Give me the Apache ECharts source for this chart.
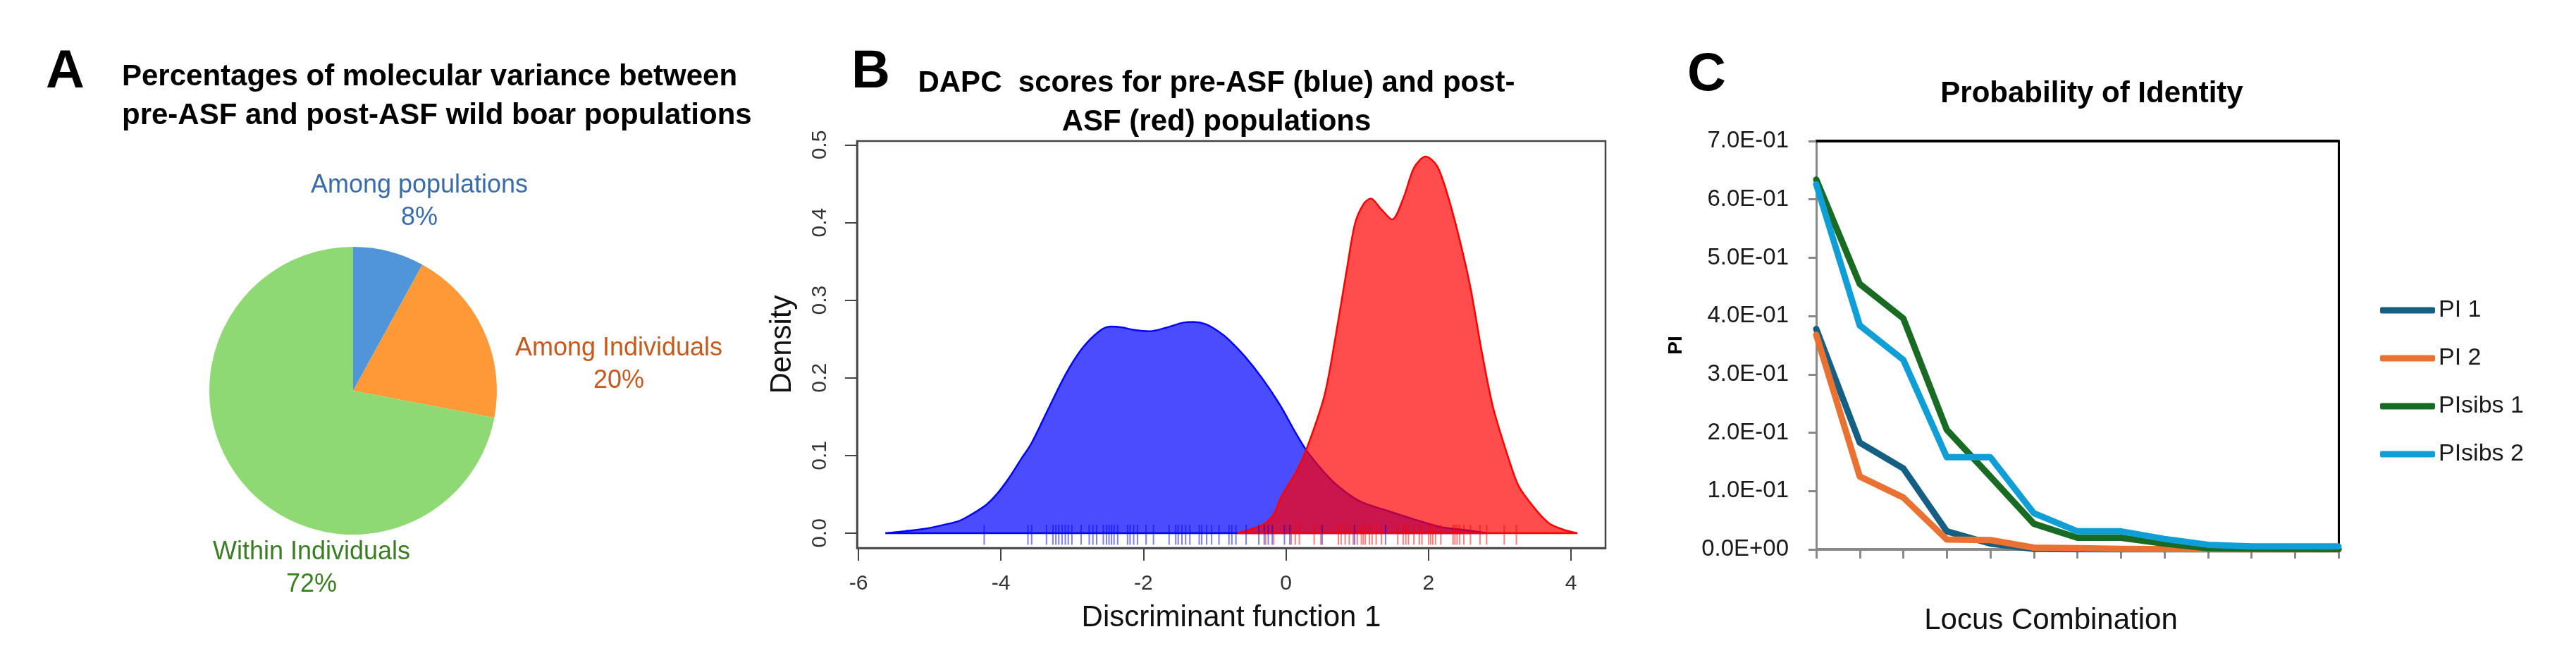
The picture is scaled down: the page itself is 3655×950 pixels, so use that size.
<!DOCTYPE html>
<html>
<head>
<meta charset="utf-8">
<script src="https://cdn.jsdelivr.net/npm/echarts@6/dist/echarts.min.js"></script>
<style>
html,body{margin:0;padding:0;background:#fff;}
#chart{width:3655px;height:950px;}
</style>
</head>
<body>
<div id="chart"></div>
<script>
// ---------- Panel A data ----------
var pieNames = ['Among populations', 'Among Individuals', 'Within Individuals'];
var pieValues = [8, 20, 72];

// ---------- Panel B data (density curves, [x, density]) ----------
var preASFDensity = [
  [-5.62,0.0],[-5.35,0.0025],[-5.07,0.0056],[-4.79,0.011],[-4.58,0.016],[-4.38,0.026],
  [-4.2,0.037],[-4.06,0.05],[-3.88,0.072],[-3.72,0.095],[-3.57,0.116],[-3.33,0.161],
  [-3.09,0.205],[-2.86,0.238],[-2.62,0.260],[-2.46,0.266],[-2.3,0.265],[-2.15,0.262],
  [-1.91,0.260],[-1.67,0.265],[-1.45,0.271],[-1.3,0.272],[-1.12,0.269],[-0.95,0.26],
  [-0.8,0.249],[-0.57,0.227],[-0.33,0.199],[-0.09,0.166],[0.15,0.127],[0.3,0.105],
  [0.54,0.078],[0.74,0.060],[1.04,0.041],[1.42,0.029],[1.79,0.018],[2.17,0.008],
  [2.55,0.0036],[2.83,0.0]
];
var postASFDensity = [
  [-0.68,0.0],[-0.32,0.011],[-0.17,0.0245],[-0.08,0.044],[0.02,0.060],[0.15,0.08],
  [0.3,0.111],[0.54,0.177],[0.70,0.255],[0.86,0.343],[0.97,0.399],[1.09,0.424],
  [1.19,0.431],[1.33,0.418],[1.49,0.404],[1.65,0.432],[1.80,0.471],[1.96,0.485],
  [2.12,0.473],[2.28,0.432],[2.44,0.377],[2.59,0.316],[2.75,0.233],[2.91,0.161],
  [3.15,0.089],[3.27,0.06],[3.5,0.031],[3.69,0.013],[3.88,0.005],[4.09,0.0]
];
// individual DAPC scores (rug)
var preASFScores = [
  -4.235,-3.621,-3.569,-3.361,-3.271,-3.229,-3.188,-3.142,-3.097,-3.055,-3.004,-2.875,
  -2.761,-2.709,-2.657,-2.563,-2.518,-2.483,-2.448,-2.413,-2.362,-2.223,-2.188,-2.137,
  -2.084,-1.963,-1.859,-1.640,-1.547,-1.512,-1.460,-1.408,-1.349,-1.217,-1.182,-1.113,
  -1.043,-0.940,-0.800,-0.759,-0.702,-0.559,-0.381,-0.305,-0.248,-0.192,-0.021,0.054,
  0.508,0.963,1.398
];
var postASFScores = [
  -0.285,-0.171,0.074,0.131,0.188,0.396,0.490,0.736,0.774,0.831,0.888,0.945,1.001,
  1.058,1.085,1.115,1.172,1.209,1.266,1.341,1.569,1.645,1.682,1.720,1.796,1.871,1.909,
  2.004,2.031,2.061,2.099,2.174,2.345,2.371,2.402,2.439,2.496,2.590,2.723,2.817,3.064,3.234
];
var xTicksB = [-6, -4, -2, 0, 2, 4];
var yTicksB = [0, 0.1, 0.2, 0.3, 0.4, 0.5];

// ---------- Panel C data ----------
var locusCats = ['1','2','3','4','5','6','7','8','9','10','11','12','13'];
var pi1     = [0.378,0.183,0.139,0.031,0.010,0.0008,0.0002,0.0001,0,0,0,0,0];
var pi2     = [0.368,0.125,0.089,0.017,0.016,0.003,0.002,0.001,0.0005,0.0002,0.0001,0.0001,0.0001];
var pisibs1 = [0.634,0.455,0.396,0.205,0.125,0.044,0.020,0.020,0.010,0.002,0.0012,0.0008,0.0005];
var pisibs2 = [0.626,0.384,0.325,0.158,0.158,0.062,0.031,0.031,0.018,0.008,0.005,0.005,0.005];
var seriesNamesC = ['PI 1', 'PI 2', 'PIsibs 1', 'PIsibs 2'];

// ---------- build option ----------
var FONT = 'Liberation Sans, Arial, sans-serif';
var pieColors = ['#4E95D9', '#FD9A37', '#8ED973'];
var pieLabelColors = ['#3A6CAB', '#C55A1E', '#3B7D23'];
var pieLabelPos = [[595, 286], [878, 517], [442, 806]];

function sciFmt(v) {
  if (Math.abs(v) < 1e-12) return '0.0E+00';
  var e = Math.floor(Math.log10(v) + 1e-9);
  var m = v / Math.pow(10, e);
  var es = (e < 0 ? '-' : '+') + (Math.abs(e) < 10 ? '0' : '') + Math.abs(e);
  return m.toFixed(1) + 'E' + es;
}

function rugSeries(scores, color, name) {
  return {
    type: 'custom',
    name: name,
    xAxisIndex: 0, yAxisIndex: 0,
    z: 10,
    silent: true,
    data: scores.map(function (s) { return [s]; }),
    renderItem: function (params, api) {
      var p1 = api.coord([api.value(0), -0.015]);
      var p2 = api.coord([api.value(0), 0.011]);
      return {
        type: 'line',
        shape: { x1: p1[0], y1: p1[1], x2: p2[0], y2: p2[1] },
        style: { stroke: color, lineWidth: 2 }
      };
    }
  };
}

function baselineSeries(curve, color) {
  return {
    type: 'line', xAxisIndex: 0, yAxisIndex: 0,
    data: [[curve[0][0], 0], [curve[curve.length - 1][0], 0]],
    showSymbol: false, symbol: 'none',
    lineStyle: { color: color, width: 2.5 },
    z: 3, silent: true
  };
}

var lineColorsC = ['#156082', '#E97132', '#196B24', '#0F9ED5'];
var lineDataC = [pi1, pi2, pisibs1, pisibs2];

var option = {
  animation: false,
  backgroundColor: '#ffffff',
  textStyle: { fontFamily: FONT },
  title: [
    { text: 'A', left: 60, top: 60, textStyle: { fontSize: 76, fontWeight: 'bold', color: '#000', fontFamily: FONT, lineHeight: 76 } },
    { text: 'Percentages of molecular variance between\npre-ASF and post-ASF wild boar populations', left: 168, top: 77,
      textStyle: { fontSize: 42, fontWeight: 'bold', color: '#000', fontFamily: FONT, lineHeight: 55 } },
    { text: 'B', left: 1203, top: 60, textStyle: { fontSize: 76, fontWeight: 'bold', color: '#000', fontFamily: FONT, lineHeight: 76 } },
    { text: 'DAPC  scores for pre-ASF (blue) and post-\nASF (red) populations', left: 1721, top: 86, textAlign: 'center',
      textStyle: { fontSize: 42, fontWeight: 'bold', color: '#000', fontFamily: FONT, lineHeight: 55, align: 'center' } },
    { text: 'C', left: 2389, top: 64, textStyle: { fontSize: 76, fontWeight: 'bold', color: '#000', fontFamily: FONT, lineHeight: 76 } },
    { text: 'Probability of Identity', left: 2963, top: 107, textAlign: 'center',
      textStyle: { fontSize: 42, fontWeight: 'bold', color: '#000', fontFamily: FONT, lineHeight: 42 } }
  ],
  legend: {
    data: seriesNamesC,
    orient: 'vertical',
    left: 3372, top: 418,
    itemWidth: 78, itemHeight: 9, itemGap: 34,
    icon: 'roundRect',
    textStyle: { fontSize: 34, lineHeight: 34, color: '#1a1a1a', fontFamily: FONT }
  },
  grid: [
    { left: 1216, top: 200, width: 1062, height: 577, show: true, borderColor: '#444', borderWidth: 2.5, backgroundColor: 'transparent' },
    { left: 2577, top: 200, width: 741, height: 579 }
  ],
  xAxis: [
    {
      gridIndex: 0, type: 'value', min: -6.02, max: 4.485,
      axisLine: { show: true, onZero: false, lineStyle: { color: '#444', width: 2.5 } },
      axisTick: { show: true, customValues: xTicksB, length: 18, lineStyle: { color: '#444', width: 2 } },
      axisLabel: { customValues: xTicksB, fontSize: 30, color: '#333', margin: 36, fontFamily: FONT },
      splitLine: { show: false },
      name: 'Discriminant function 1', nameLocation: 'middle', nameGap: 78,
      nameTextStyle: { fontSize: 42, color: '#111', fontFamily: FONT }
    },
    {
      gridIndex: 1, type: 'category', data: locusCats, boundaryGap: false,
      axisLine: { show: true, onZero: false, lineStyle: { color: '#898989', width: 4 } },
      axisTick: { show: true, interval: 0, length: 13, lineStyle: { color: '#898989', width: 3 } },
      axisLabel: { show: false },
      splitLine: { show: false },
      name: 'Locus Combination', nameLocation: 'middle', nameGap: 80,
      nameTextStyle: { fontSize: 42, color: '#111', fontFamily: FONT, padding: [0, 75, 0, 0] }
    },
    {
      gridIndex: 1, type: 'category', data: locusCats, boundaryGap: false, position: 'top',
      axisLine: { show: true, onZero: false, lineStyle: { color: '#000', width: 4 } },
      axisTick: { show: false }, axisLabel: { show: false }, splitLine: { show: false }
    }
  ],
  yAxis: [
    {
      gridIndex: 0, type: 'value', min: -0.0191, max: 0.505,
      axisLine: { show: true, onZero: false, lineStyle: { color: '#444', width: 2.5 } },
      axisTick: { show: true, customValues: yTicksB, length: 17, lineStyle: { color: '#444', width: 2 } },
      axisLabel: { customValues: yTicksB, rotate: 90, fontSize: 30, color: '#333', margin: 37, fontFamily: FONT,
        formatter: function (v) { return v.toFixed(1); } },
      splitLine: { show: false },
      name: 'Density', nameLocation: 'middle', nameRotate: 90, nameGap: 85,
      nameTextStyle: { fontSize: 42, color: '#111', fontFamily: FONT }
    },
    {
      gridIndex: 1, type: 'value', min: 0, max: 0.7, interval: 0.1,
      axisLine: { show: true, onZero: false, lineStyle: { color: '#898989', width: 3 } },
      axisTick: { show: true, length: 11, lineStyle: { color: '#898989', width: 3 } },
      axisLabel: { fontSize: 33, color: '#1a1a1a', margin: 39, fontFamily: FONT, formatter: sciFmt },
      splitLine: { show: false },
      name: 'PI', nameLocation: 'middle', nameRotate: 90, nameGap: 185,
      nameTextStyle: { fontSize: 28, fontWeight: 'bold', color: '#000', fontFamily: FONT }
    },
    {
      gridIndex: 1, type: 'value', min: 0, max: 0.7, position: 'right',
      axisLine: { show: true, onZero: false, lineStyle: { color: '#000', width: 3 } },
      axisTick: { show: false }, axisLabel: { show: false }, splitLine: { show: false }
    }
  ],
  series: [
    {
      type: 'pie',
      center: [501, 554], radius: 204,
      startAngle: 90, clockwise: true,
      data: pieNames.map(function (n, i) {
        return { name: n, value: pieValues[i], itemStyle: { color: pieColors[i] },
          label: { color: pieLabelColors[i] } };
      }),
      label: {
        show: true, formatter: '{b}\n{c}%', fontSize: 36, lineHeight: 46, fontFamily: FONT, align: 'center'
      },
      labelLine: { show: false },
      labelLayout: function (params) {
        var p = pieLabelPos[params.dataIndex];
        return { x: p[0], y: p[1], align: 'center', verticalAlign: 'middle' };
      },
      itemStyle: { borderWidth: 0 },
      silent: true
    },
    {
      type: 'line', name: 'pre-ASF', xAxisIndex: 0, yAxisIndex: 0,
      data: preASFDensity, smooth: 0.3, showSymbol: false, symbol: 'none',
      lineStyle: { color: '#0000FF', width: 2.5 },
      areaStyle: { color: 'rgba(0,0,255,0.7)', opacity: 1, origin: 0 },
      z: 2, silent: true
    },
    baselineSeries(preASFDensity, '#0000FF'),
    {
      type: 'line', name: 'post-ASF', xAxisIndex: 0, yAxisIndex: 0,
      data: postASFDensity, smooth: 0.3, showSymbol: false, symbol: 'none',
      lineStyle: { color: '#FF0000', width: 2.5 },
      areaStyle: { color: 'rgba(255,0,0,0.7)', opacity: 1, origin: 0 },
      z: 4, silent: true
    },
    baselineSeries(postASFDensity, '#FF0000'),
    rugSeries(preASFScores, 'rgba(0,0,255,0.5)', 'rug-pre'),
    rugSeries(postASFScores, 'rgba(255,0,0,0.5)', 'rug-post')
  ].concat(lineDataC.map(function (d, i) {
    return {
      type: 'line', name: seriesNamesC[i], xAxisIndex: 1, yAxisIndex: 1,
      data: d, showSymbol: false, symbol: 'none', smooth: false,
      lineStyle: { color: lineColorsC[i], width: 9, cap: 'round', join: 'round' },
      itemStyle: { color: lineColorsC[i] },
      z: 5 + i, silent: true
    };
  }))
};

var chart = echarts.init(document.getElementById('chart'), null, { renderer: 'canvas' });
chart.setOption(option);
</script>
</body>
</html>
